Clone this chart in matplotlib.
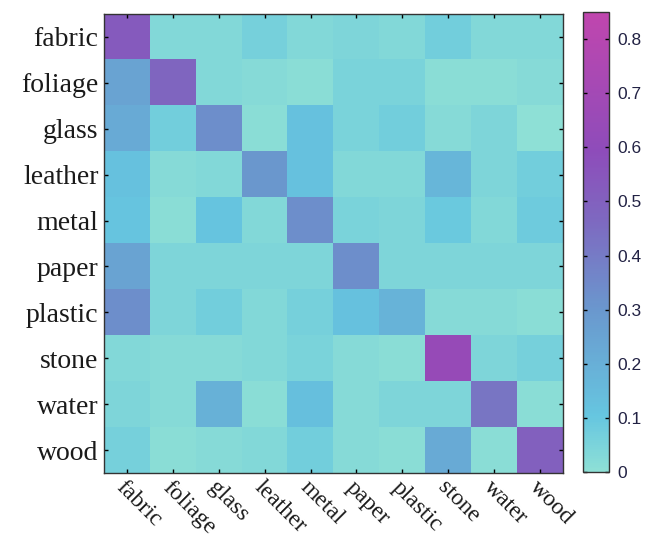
import numpy as np
import matplotlib
matplotlib.use('Agg')
import matplotlib.pyplot as plt
from matplotlib.colors import LinearSegmentedColormap

# material classes (rows = true, cols = predicted)
classes = ['fabric', 'foliage', 'glass', 'leather', 'metal',
           'paper', 'plastic', 'stone', 'water', 'wood']

row_fabric  = [0.53, 0.03, 0.03, 0.06, 0.03, 0.04, 0.03, 0.07, 0.03, 0.03]
row_foliage = [0.25, 0.48, 0.03, 0.02, 0.01, 0.05, 0.05, 0.01, 0.01, 0.02]
row_glass   = [0.22, 0.07, 0.33, 0.01, 0.12, 0.05, 0.07, 0.02, 0.04, 0.00]
row_leather = [0.12, 0.02, 0.03, 0.30, 0.12, 0.03, 0.03, 0.17, 0.04, 0.07]
row_metal   = [0.11, 0.01, 0.11, 0.03, 0.33, 0.05, 0.04, 0.09, 0.03, 0.08]
row_paper   = [0.25, 0.04, 0.04, 0.04, 0.04, 0.33, 0.04, 0.04, 0.04, 0.04]
row_plastic = [0.33, 0.04, 0.07, 0.03, 0.06, 0.12, 0.18, 0.02, 0.02, 0.01]
row_stone   = [0.03, 0.02, 0.02, 0.03, 0.05, 0.02, 0.01, 0.64, 0.04, 0.06]
row_water   = [0.04, 0.02, 0.19, 0.01, 0.13, 0.02, 0.04, 0.04, 0.42, 0.01]
row_wood    = [0.06, 0.01, 0.02, 0.03, 0.07, 0.02, 0.01, 0.22, 0.01, 0.50]

cbar_ticks = [0, 0.1, 0.2, 0.3, 0.4, 0.5, 0.6, 0.7, 0.8]
cbar_labels = ['0', '0.1', '0.2', '0.3', '0.4', '0.5', '0.6', '0.7', '0.8']

conf = np.array([row_fabric, row_foliage, row_glass, row_leather, row_metal,
                 row_paper, row_plastic, row_stone, row_water, row_wood])

vmax = 0.85
cmap = LinearSegmentedColormap.from_list('cool_magenta', [
    (0.0, '#8EE0D6'),
    (0.12, '#66C6E0'),
    (0.35, '#6A98CE'),
    (0.55, '#7E68C0'),
    (0.70, '#8E4CBA'),
    (1.0, '#C046AE'),
])

plt.rcParams['font.family'] = 'Liberation Serif'

fig = plt.figure(figsize=(6.48, 5.48), dpi=100)
ax = fig.add_axes([0.1605, 0.1369, 0.7083, 0.8376])
cax = fig.add_axes([0.8997, 0.1387, 0.0401, 0.8394])

im = ax.imshow(conf, cmap=cmap, vmin=0, vmax=vmax, aspect='auto',
               interpolation='nearest')

ax.set_xticks(np.arange(len(classes)))
ax.set_yticks(np.arange(len(classes)))
ax.set_xticklabels(classes, rotation=-45, ha='left', va='top',
                   rotation_mode='anchor', fontsize=17, color='#1a1a1a')
ax.set_yticklabels(classes, fontsize=20, color='#1a1a1a')
ax.tick_params(direction='in', length=3, width=1, top=True, right=True,
               labeltop=False, labelright=False, pad=4)
ax.tick_params(axis='x', pad=3)
for s in ax.spines.values():
    s.set_linewidth(1.0)
    s.set_color('#333333')

cb = fig.colorbar(im, cax=cax, ticks=cbar_ticks)
cb.ax.set_yticklabels(cbar_labels, fontfamily='Liberation Sans',
                      fontsize=12.5, color='#222244')
cb.ax.tick_params(direction='in', length=3, width=1, left=True, right=True, pad=6)
cb.outline.set_linewidth(1.0)
cb.outline.set_edgecolor('#333333')

fig.savefig('out.png', dpi=100)
